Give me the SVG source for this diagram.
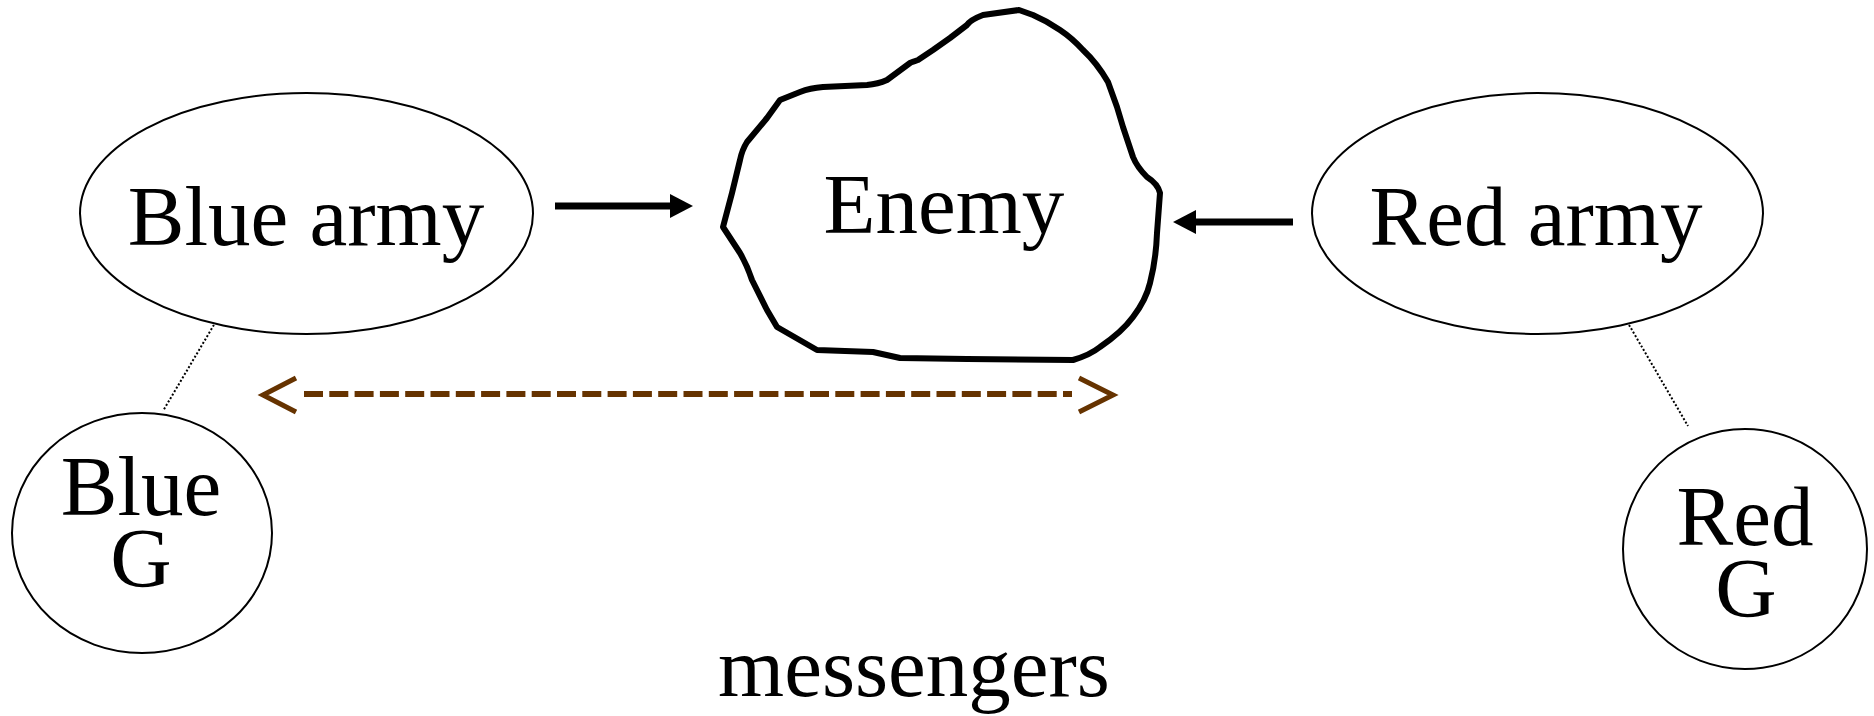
<svg xmlns="http://www.w3.org/2000/svg" width="1874" height="716" viewBox="0 0 1874 716">
<style>
  .lbl { font-family: "Liberation Serif", "Times New Roman", serif; font-size: 85px; fill: #000; text-anchor: middle; }
  .thin { fill: #fff; stroke: #000; stroke-width: 2; }
  .dot { stroke: #000; stroke-width: 2; stroke-dasharray: 2 2; fill: none; }
  .solid { stroke: #000; stroke-width: 7; fill: none; }
  .msg { stroke: #663300; fill: none; }
</style>
<rect width="1874" height="716" fill="#fff"/>
<g id="connectors">
  <line class="dot" x1="218" y1="318" x2="163" y2="411"/>
  <line class="dot" x1="1625" y1="318" x2="1688" y2="426"/>
  <line class="solid" x1="555" y1="206" x2="672" y2="206"/>
  <polygon points="670,194 693,206 670,218" fill="#000"/>
  <line class="solid" x1="1194" y1="222" x2="1293" y2="222"/>
  <polygon points="1196,210 1173,222 1196,234" fill="#000"/>
  <line class="msg" x1="304" y1="394" x2="1072" y2="394" stroke-width="6" stroke-dasharray="19 6.3"/>
  <polyline class="msg" points="296,378 263,395 296,412" stroke-width="5"/>
  <polyline class="msg" points="1079,378 1113,395 1079,412" stroke-width="5"/>
</g>
<g id="enemy">
  <path d="M1019,10 L983,15 Q970,20 967,25 L950,38 L933,50 L918,60 Q912,62 910,63 L887,80 Q878,84 867,85 L823,87 Q810,88 800,92 L780,100 L767,118 L747,142 Q742,150 740,160 L732,193 L723,227 L740,253 Q747,265 752,280 L767,310 L777,327 L817,350 L873,352 L900,358 L967,359 L1073,360 Q1090,355 1100,347 Q1122,332 1133,317 Q1146,300 1150,283 Q1156,260 1157,233 L1160,193 Q1158,184 1147,177 Q1137,167 1133,157 L1123,127 L1117,107 L1108,82 Q1097,63 1083,50 Q1072,38 1060,30 Q1047,21 1033,15 Z" fill="#fff" stroke="#000" stroke-width="6" stroke-linejoin="round"/>
  <text class="lbl" x="944" y="233">Enemy</text>
</g>
<g id="blue-army">
  <ellipse class="thin" cx="306.5" cy="213.5" rx="226.5" ry="120.5"/>
  <text class="lbl" x="306" y="245">Blue army</text>
</g>
<g id="red-army">
  <ellipse class="thin" cx="1537.5" cy="213.5" rx="225.5" ry="120.5"/>
  <text class="lbl" x="1536" y="245">Red army</text>
</g>
<g id="blue-g">
  <ellipse class="thin" cx="142" cy="533" rx="130" ry="120"/>
  <text class="lbl" x="141" y="515">Blue</text>
  <text class="lbl" x="141" y="587">G</text>
</g>
<g id="red-g">
  <ellipse class="thin" cx="1745" cy="549" rx="122" ry="120"/>
  <text class="lbl" x="1745" y="545">Red</text>
  <text class="lbl" x="1746" y="617">G</text>
</g>
<g id="messengers">
  <text class="lbl" x="914" y="696">messengers</text>
</g>
</svg>
